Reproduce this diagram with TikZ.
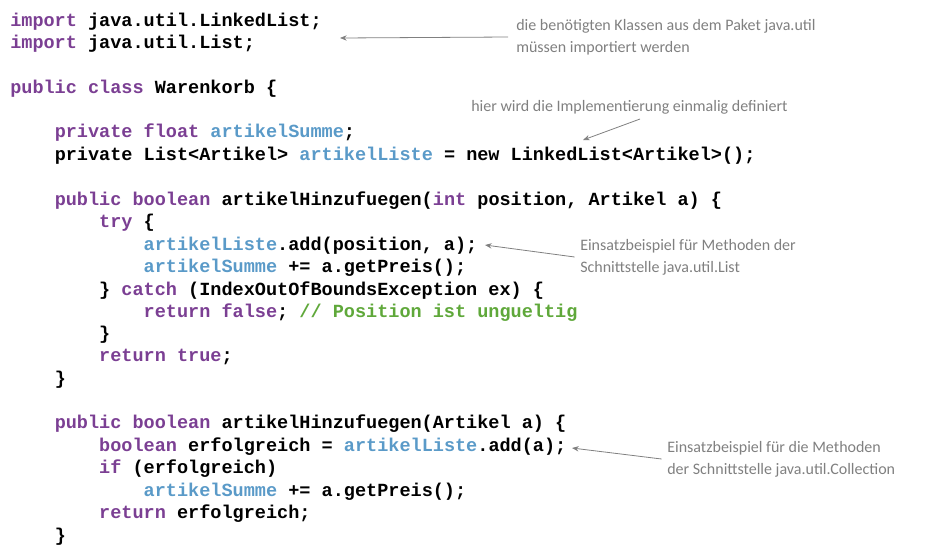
\documentclass[tikz,border=0pt]{standalone}
\usepackage{fontspec}
\setmonofont{Liberation Mono}
\setmainfont{Carlito}
\usetikzlibrary{arrows.meta}
\definecolor{kw}{HTML}{7B3F93}
\definecolor{fld}{HTML}{5A9AC8}
\definecolor{cmt}{HTML}{5FA83A}
\definecolor{ann}{HTML}{808080}
\newcommand{\K}[1]{\textcolor{kw}{#1}}
\newcommand{\F}[1]{\textcolor{fld}{#1}}
\begin{document}
\begin{tikzpicture}[x=0.75pt,y=-0.75pt,
  code/.style={anchor=base west,inner sep=0,font=\ttfamily\bfseries\fontsize{13.9}{16}\selectfont},
  note/.style={anchor=west,inner sep=0,align=left,text=ann,font=\fontsize{12}{16.5}\selectfont},
  arr/.style={draw=ann,line width=0.6pt,-{Stealth[length=5pt,width=4pt]}}]
\useasboundingbox (0,0) rectangle (952,551);
\node[code] (l1) at (10,26) {\K{import} java.util.LinkedList;};
\node[code] (l2) at (10,48) {\K{import} java.util.List;};
\node[code] (l3) at (10,93) {\K{public} \K{class} Warenkorb \{};
\node[code] (l4) at (10,137) {\ \ \ \ \K{private} \K{float} \F{artikelSumme};};
\node[code] (l5) at (10,160) {\ \ \ \ private List<Artikel> \F{artikelListe} = new LinkedList<Artikel>();};
\node[code] (l6) at (10,205) {\ \ \ \ \K{public} \K{boolean} artikelHinzufuegen(\K{int} position, Artikel a) \{};
\node[code] (l7) at (10,227) {\ \ \ \ \ \ \ \ \K{try} \{};
\node[code] (l8) at (10,250) {\ \ \ \ \ \ \ \ \ \ \ \ \F{artikelListe}.add(position, a);};
\node[code] (l9) at (10,272) {\ \ \ \ \ \ \ \ \ \ \ \ \F{artikelSumme} += a.getPreis();};
\node[code] (l10) at (10,295) {\ \ \ \ \ \ \ \ \} \K{catch} (IndexOutOfBoundsException ex) \{};
\node[code] (l11) at (10,317) {\ \ \ \ \ \ \ \ \ \ \ \ \K{return} \K{false}; \textcolor{cmt}{// Position ist ungueltig}};
\node[code] (l12) at (10,339) {\ \ \ \ \ \ \ \ \}};
\node[code] (l13) at (10,361) {\ \ \ \ \ \ \ \ \K{return} \K{true};};
\node[code] (l14) at (10,384) {\ \ \ \ \}};
\node[code] (l15) at (10,428) {\ \ \ \ \K{public} \K{boolean} artikelHinzufuegen(Artikel a) \{};
\node[code] (l16) at (10,451) {\ \ \ \ \ \ \ \ \K{boolean} erfolgreich = \F{artikelListe}.add(a);};
\node[code] (l17) at (10,473) {\ \ \ \ \ \ \ \ \K{if} (erfolgreich)};
\node[code] (l18) at (10,496) {\ \ \ \ \ \ \ \ \ \ \ \ \F{artikelSumme} += a.getPreis();};
\node[code] (l19) at (10,518) {\ \ \ \ \ \ \ \ \K{return} erfolgreich;};
\node[code] (l20) at (10,541) {\ \ \ \ \}};

\node[note] (n1) at (516,37) {die benötigten Klassen aus dem Paket java.util\\müssen importiert werden};
\node[note] (n2) at (471,107) {hier wird die Implementierung einmalig definiert};
\node[note] (n3) at (580,257) {Einsatzbeispiel für Methoden der\\Schnittstelle java.util.List};
\node[note] (n4) at (667,459) {Einsatzbeispiel für die Methoden\\der Schnittstelle java.util.Collection};

\coordinate (t1) at (340,38);
\coordinate (s2) at (640,119);
\coordinate (t2) at (583,140);
\coordinate (t3) at (485,245);
\coordinate (t4) at (572,448);
\draw[arr] ([xshift=-6pt]n1.west) -- (t1);
\draw[arr] (s2) -- (t2);
\draw[arr] ([xshift=-4pt]n3.west) -- (t3);
\draw[arr] ([xshift=-4pt]n4.west) -- (t4);
\end{tikzpicture}
\end{document}
